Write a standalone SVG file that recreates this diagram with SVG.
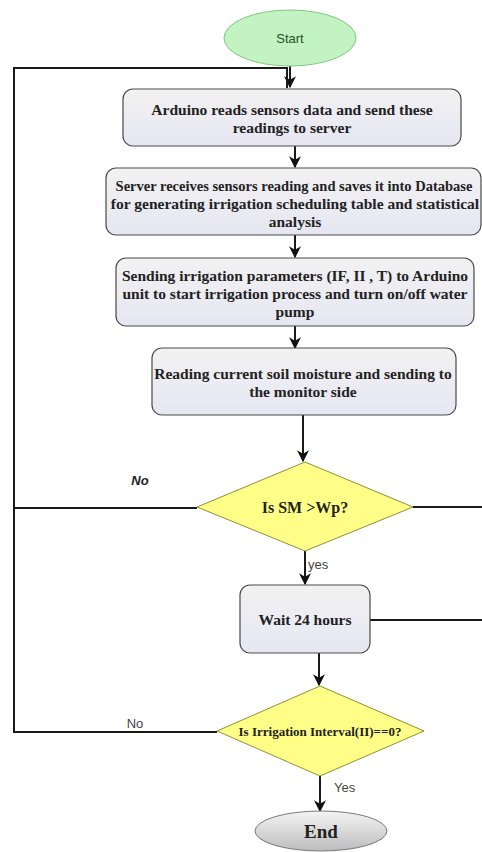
<svg xmlns="http://www.w3.org/2000/svg" width="482" height="852" viewBox="0 0 482 852">
<defs>
<linearGradient id="boxg" x1="0" y1="0" x2="0" y2="1">
<stop offset="0" stop-color="#f2f2f2"/>
<stop offset="1" stop-color="#e6e6f2"/>
</linearGradient>
<linearGradient id="endg" x1="0" y1="0" x2="0" y2="1">
<stop offset="0" stop-color="#f4f4f4"/>
<stop offset="1" stop-color="#bdbdbd"/>
</linearGradient>
<marker id="arr" viewBox="0 0 10 10" refX="9" refY="5" markerWidth="6" markerHeight="6" markerUnits="strokeWidth" orient="auto">
<path d="M0,0 L10,5 L0,10 L3,5 z" fill="#111"/>
</marker>
</defs>
<style>
.box{fill:url(#boxg);stroke:#4a4a4a;stroke-width:1.2}
.dia{fill:#ffff88;stroke:#8f8f3a;stroke-width:1}
.bt{font-family:"Liberation Serif",serif;font-weight:bold;font-size:15.5px;fill:#222;text-anchor:middle}
.lbl{font-family:"Liberation Sans",sans-serif;font-size:13px;fill:#444}
.ln{fill:none;stroke:#1a1a1a;stroke-width:2}
.ln2{fill:none;stroke:#1a1a1a;stroke-width:2}
</style>
<rect width="482" height="852" fill="#ffffff"/>
<g id="connectors">
<path class="ln" d="M290,66 L290,87" marker-end="url(#arr)"/>
<path class="ln2" d="M287,88 L287,68 L14,68 L14,732 L217,732"/>
<path class="ln" d="M295,146 L295,167" marker-end="url(#arr)"/>
<path class="ln" d="M295,235 L295,257" marker-end="url(#arr)"/>
<path class="ln" d="M295,326 L295,348" marker-end="url(#arr)"/>
<path class="ln" d="M303,415 L303,461" marker-end="url(#arr)"/>
<path class="ln2" d="M197,508 L14,508"/>
<path class="ln2" d="M413,507 L482,507"/>
<path class="ln" d="M305,551 L305,584" marker-end="url(#arr)"/>
<path class="ln2" d="M370,620 L482,620"/>
<path class="ln" d="M319,653 L319,685" marker-end="url(#arr)"/>
<path class="ln" d="M320,776 L320,811" marker-end="url(#arr)"/>
<text x="140" y="485" font-family="Liberation Sans,sans-serif" font-size="13" font-weight="bold" font-style="italic" fill="#222" text-anchor="middle">No</text>
<text x="308" y="569" class="lbl">yes</text>
<text x="135" y="728" class="lbl" text-anchor="middle">No</text>
<text x="334" y="792" class="lbl">Yes</text>
</g>
<g id="start">
<ellipse cx="290" cy="38" rx="66" ry="28" fill="#c3f2c3" stroke="#7fc87f" stroke-width="1"/>
<text x="290" y="43" font-family="Liberation Sans,sans-serif" font-size="13" fill="#225522" text-anchor="middle">Start</text>
</g>
<g id="box1">
<rect class="box" x="123" y="89" width="338" height="57" rx="10"/>
<text class="bt" x="292" y="115">Arduino reads sensors data and send these</text>
<text class="bt" x="292" y="133">readings to server</text>
</g>
<g id="box2">
<rect class="box" x="106" y="168" width="375" height="67" rx="10"/>
<text class="bt" x="294" y="191" style="font-size:14.5px">Server receives sensors reading and saves it into Database</text>
<text class="bt" x="295" y="209">for generating irrigation scheduling table and statistical</text>
<text class="bt" x="295" y="227">analysis</text>
</g>
<g id="box3">
<rect class="box" x="116" y="258" width="358" height="68" rx="10"/>
<text class="bt" x="295" y="281">Sending irrigation parameters (IF, II , T) to Arduino</text>
<text class="bt" x="295" y="299">unit to start irrigation process and turn on/off water</text>
<text class="bt" x="295" y="317">pump</text>
</g>
<g id="box4">
<rect class="box" x="152" y="348" width="304" height="67" rx="10"/>
<text class="bt" x="303" y="379">Reading current soil moisture and sending to</text>
<text class="bt" x="303" y="397">the monitor side</text>
</g>
<g id="dec1">
<polygon class="dia" points="305,462 413,507 305,551 197,507"/>
<text class="bt" x="305" y="513" style="font-size:16px">Is SM &gt;Wp?</text>
</g>
<g id="wait">
<rect class="box" x="240" y="585" width="130" height="68" rx="10"/>
<text class="bt" x="305" y="625">Wait 24 hours</text>
</g>
<g id="dec2">
<polygon class="dia" points="320,686 424,731 320,776 217,731"/>
<text class="bt" x="320" y="736" style="font-size:13px">Is Irrigation Interval(II)==0?</text>
</g>
<g id="end">
<ellipse cx="321" cy="831" rx="66" ry="20" fill="url(#endg)" stroke="#7a7a7a" stroke-width="1"/>
<text x="321" y="838" font-family="Liberation Serif,serif" font-weight="bold" font-size="19" fill="#222" text-anchor="middle">End</text>
</g>
</svg>
